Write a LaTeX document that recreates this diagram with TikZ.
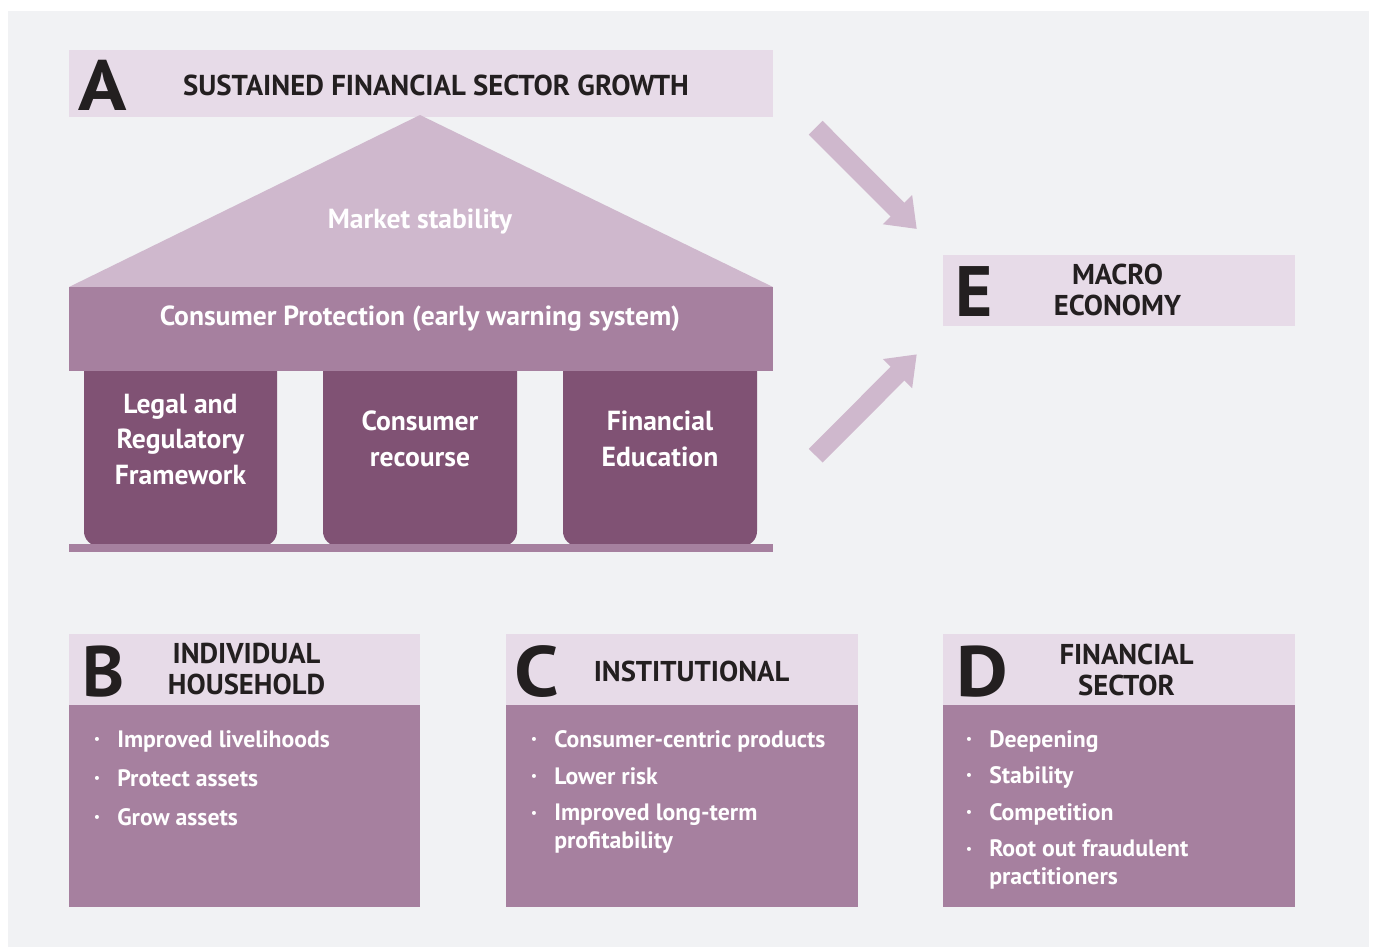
\documentclass[tikz,border=0pt]{standalone}
\usepackage{fontspec}
\setmainfont{PT Sans}
\newfontfamily\labfont{PT Sans}
\newfontfamily\widefont{PT Sans}[FakeStretch=1.12]
\usetikzlibrary{arrows.meta}

\definecolor{panel}{HTML}{F1F2F4}
\definecolor{lightmauve}{HTML}{E7DBE8}
\definecolor{roof}{HTML}{CFB8CD}
\definecolor{midmauve}{HTML}{A6809F}
\definecolor{plum}{HTML}{805274}
\definecolor{ink}{HTML}{231F20}

\tikzset{
  x=0.75pt, y=-0.75pt,
  bigletter/.style={anchor=base west, inner sep=0pt, text=ink,
    font={\labfont\bfseries\fontsize{53.5}{60}\selectfont}},
  headtext/.style={anchor=base, inner sep=0pt, text=ink, align=center,
    font={\labfont\bfseries\fontsize{21.5}{23.1}\selectfont}},
  whitetext/.style={anchor=base, inner sep=0pt, text=white, align=center,
    font={\labfont\bfseries\fontsize{20.7}{26.6}\selectfont}},
  item/.style={anchor=base west, inner sep=0pt, text=white, align=left,
    font={\labfont\bfseries\fontsize{17.8}{20.3}\selectfont}},
  flowarrow/.style={draw=roof, line width=14.6pt, line cap=butt,
    -{Triangle[width=29.6pt,length=20.5pt]}},
}
\newcommand{\bul}{\llap{\raisebox{0.3ex}{\scalebox{0.55}{\textbullet}}\hspace{13pt}}}

\begin{document}
\begin{tikzpicture}
% page and panel
\useasboundingbox (0,0) rectangle (1374,947);
\fill[white] (0,0) rectangle (1374,947);
\fill[panel] (8,11) rectangle (1369,947);

% --- the house: title band, roof, pillars, beam, base ---
\fill[lightmauve] (69,50) rectangle (773,117);
\fill[roof] (69,287) -- (420,115) -- (773,287) -- cycle;
\fill[plum, rounded corners=11pt] (84,330) rectangle (277,546);
\fill[plum, rounded corners=11pt] (323,330) rectangle (517,546);
\fill[plum, rounded corners=11pt] (563,330) rectangle (757,546);
\fill[midmauve] (69,287) rectangle (773,371);
\fill[midmauve] (69,544) rectangle (773,552);

\node[bigletter, font={\widefont\bfseries\fontsize{53.5}{60}\selectfont}] (letA) at (78,110) {A};
\node[headtext, font={\labfont\bfseries\fontsize{21.6}{24}\selectfont}] (titleA) at (436,95) {SUSTAINED FINANCIAL SECTOR GROWTH};
\node[whitetext] (market) at (420,228) {Market stability};
\node[whitetext] (protect) at (420,325) {Consumer Protection (early warning system)};
\node[whitetext] (legal) at (180.5,484) {Legal and\\Regulatory\\Framework};
\node[whitetext] (recourse) at (420,466) {Consumer\\recourse};
\node[whitetext] (education) at (660,466) {Financial\\Education};

% --- macro economy ---
\fill[lightmauve] (943,255) rectangle (1295,326);
\node[bigletter] (letE) at (955,316) {E};
\node[headtext] (macro) at (1117.5,315) {MACRO\\ECONOMY};

\coordinate (upTail) at (815.7,127.7);
\coordinate (upTip) at (916.8,229);
\coordinate (lowTail) at (815.7,455.7);
\coordinate (lowTip) at (916.8,354.3);
\draw[flowarrow] (upTail) -- (upTip);
\draw[flowarrow] (lowTail) -- (lowTip);

% --- three outcome panels ---
\fill[midmauve] (69,634) rectangle (420,907);
\fill[lightmauve] (69,634) rectangle (420,705);
\fill[midmauve] (506,634) rectangle (858,907);
\fill[lightmauve] (506,634) rectangle (858,705);
\fill[midmauve] (943,634) rectangle (1295,907);
\fill[lightmauve] (943,634) rectangle (1295,705);

\node[bigletter] (letB) at (82,696) {B};
\node[headtext] (household) at (246.5,694) {INDIVIDUAL\\HOUSEHOLD};
\node[item] (b1) at (117,747) {\bul Improved livelihoods};
\node[item] (b2) at (117,786) {\bul Protect assets};
\node[item] (b3) at (117,825) {\bul Grow assets};

\node[bigletter, font={\widefont\bfseries\fontsize{53.5}{60}\selectfont}] (letC) at (514,696) {C};
\node[headtext] (institutional) at (691.5,681) {INSTITUTIONAL};
\node[item] (c1) at (554,747) {\bul Consumer-centric products};
\node[item] (c2) at (554,784) {\bul Lower risk};
\node[item] (c3) at (554,848) {\bul Improved long-term\\profitability};

\node[bigletter, font={\widefont\bfseries\fontsize{53.5}{60}\selectfont}] (letD) at (956,696) {D};
\node[headtext] (finsector) at (1126.5,695) {FINANCIAL\\SECTOR};
\node[item] (d1) at (989,747) {\bul Deepening};
\node[item] (d2) at (989,783) {\bul Stability};
\node[item] (d3) at (989,820) {\bul Competition};
\node[item] (d4) at (989,884) {\bul Root out fraudulent\\practitioners};
\end{tikzpicture}
\end{document}
